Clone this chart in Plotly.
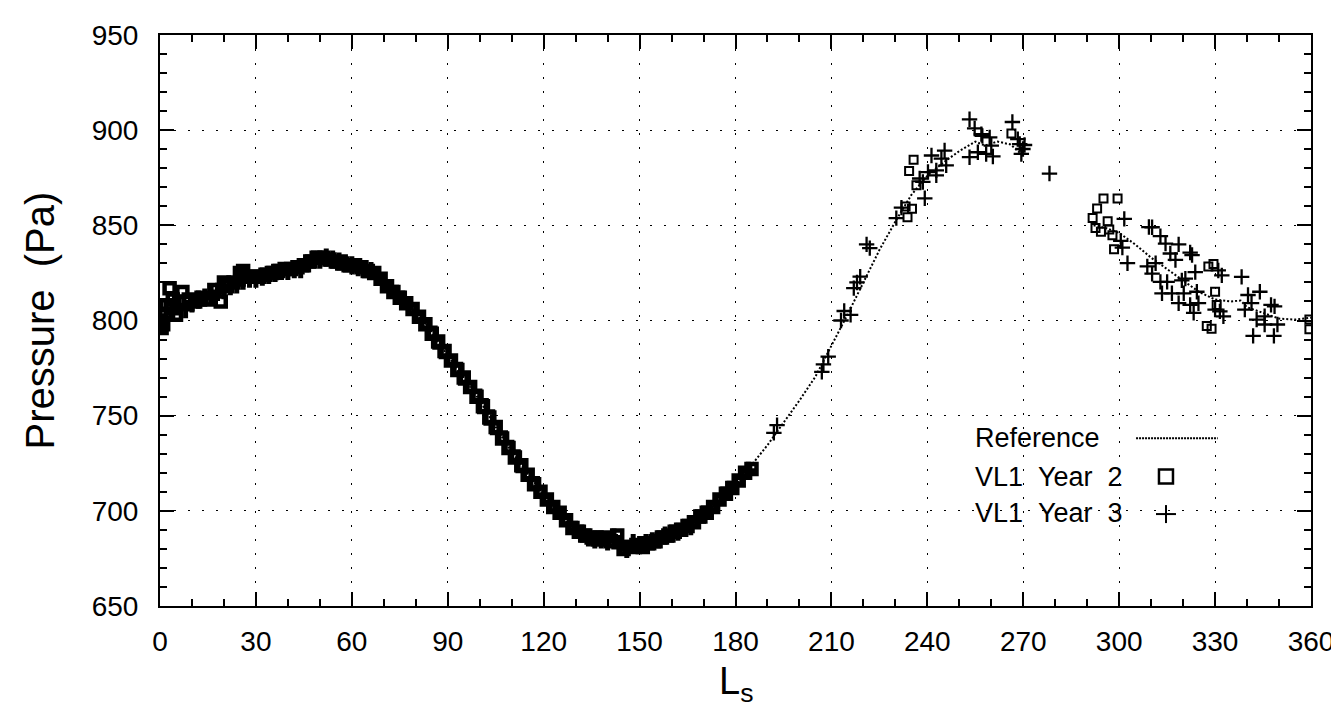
import plotly.graph_objects as go

# Reference annual pressure curve (Ls in degrees, pressure in Pa)
ref_ls = [0, 5, 10, 15, 20, 25, 30, 35, 40, 45, 48, 52, 56, 60, 65, 70, 75, 80, 85, 90,
          95, 100, 105, 110, 115, 120, 125, 130, 135, 140, 145, 150, 155, 160, 165, 170,
          175, 180, 185, 190, 195, 200, 205, 210, 215, 220, 225, 230, 235, 240, 245, 250,
          255, 258, 262, 266, 270, None, 292, 296, 300, 305, 310, 315, 320, 325, 330, 335,
          338, 340, 345, 350, 355, 360]
ref_p = [802, 806, 809, 813, 817, 820, 822, 824.5, 826.5, 828.5, 831, 832.5, 831.5, 829.5,
         827, 821, 813.5, 805, 794, 781.5, 770, 758, 744, 731, 719.5, 708.5, 699, 691, 686,
         684.5, 682, 682, 684, 687.5, 691, 698, 706.5, 715, 724, 734.5, 746, 758, 770.5,
         786.5, 803, 820, 837, 852, 866, 876, 883, 889, 894, 892, 894, 892.5, 886.5, None,
         850, 848.5, 846, 840, 833, 827, 821, 815, 811, 810, 810.5, 807, 804, 801, 800.5,
         801.5]

# VL1 Year 2 (squares) - daily-dense stretch up to Ls 185, then sparse points
y2_ls = [0, 0.5, 1, 2, 3, 4, 5, 6, 7, 9, 11, 13, 15, 17, 19, 20, 21, 23, 25, 26, 27, 29,
         31, 33, 35, 37, 39, 41, 43, 45, 47, 49, 51, 53, 55, 57, 59, 61, 63, 65, 67, 69,
         71, 73, 75, 77, 79, 81, 83, 85, 87, 89, 91, 93, 95, 97, 99, 101, 103, 105, 107,
         109, 111, 113, 115, 117, 119, 121, 123, 125, 127, 129, 131, 133, 135, 137, 139,
         141, 143, 145, 147, 149, 151, 153, 155, 157, 159, 161, 163, 165, 167, 169, 171,
         173, 175, 177, 179, 181, 183, 185,
         233.2, 233.8, 234.3, 235.2, 235.7, 236.6, 266.3,
         291.7, 292.6, 293.1, 294.3, 295.1, 296.4, 296.9, 297.9, 298.4, 299.5,
         327.4, 327.9, 328.9, 329.5, 330.0, 330.5, 359.5, 359.5]
y2_p = [800, 796, 798, 808, 817, 811, 803, 810, 815, 811, 810, 812, 811, 816, 810, 820,
        818, 820, 825, 826, 823, 823, 823, 824, 825, 826, 827, 827, 828, 829, 831, 833,
        833, 832, 831, 830, 829, 829, 828, 826, 825, 822, 818, 815, 812, 809, 806, 802,
        798, 793, 789, 784, 779, 774, 770, 765, 760, 755, 749, 744, 738, 733, 728, 724,
        719, 714, 710, 706, 702, 699, 695, 691, 689, 687, 686, 685, 686, 684, 687, 680,
        681, 682, 681, 683, 684, 686, 687, 689, 690, 692, 694, 697, 699, 702, 706, 709,
        712, 716, 720, 722,
        859.9, 854.3, 878.5, 858.7, 884.4, 871.1, 898.3,
        853.8, 848.6, 858.9, 846.6, 864.1, 852.1, 847.8, 844.8, 837.5, 864.1,
        797.1, 828.4, 795.7, 829.7, 815.1, 808.2, 795.4, 800.5]
Y2_DENSE = 100  # first 100 points form the dense band

# VL1 Year 3 (crosses)
y3_ls = [0, 2, 4, 6, 8, 10, 12, 14, 16, 18, 20, 22, 24, 26, 28, 30, 32, 34, 36, 38, 40,
         42, 44, 46, 48, 50, 52, 54, 56, 58, 60, 62, 64, 66, 68, 70, 72, 74, 76, 78, 80,
         82, 84, 86, 88, 90, 92, 94, 96, 98, 100, 102, 104, 106, 108, 110, 112, 114, 116,
         118, 120, 122, 124, 126, 128, 130, 132, 134, 136, 138, 140, 142, 144, 146, 148,
         150, 152, 154, 156, 158, 160, 162, 164, 166, 168, 170, 172, 174, 176, 178, 180,
         182, 184,
         192, 193, 207, 207.5, 209, 213, 214, 216, 217, 218, 219, 221, 222,
         230.3, 231.9, 237.6, 238.6, 239.2, 240.2, 241.3, 242.8, 242.8, 244.4, 245.4,
         245.9, 253.2, 253.2, 254.8, 255.8, 256.9, 257.2, 258.4, 259.5, 260.0, 260.5,
         266.6, 268.3, 268.9, 269.4, 269.9, 270.4, 278.2,
         300.5, 301.0, 301.6, 302.6, 308.8, 309.3, 310.3, 310.3, 311.4, 312.9, 312.9,
         313.4, 314.5, 315.0, 316.0, 316.5, 317.6, 318.6, 318.6, 319.6, 320.2, 320.7,
         322.2, 322.2, 322.8, 323.3, 323.8, 324.3, 324.8, 330.0, 331.0, 331.5, 332.1,
         332.6, 338.3, 339.3, 340.3, 341.4, 341.9, 343.0, 344.0, 345.5, 345.5, 347.5,
         348.4, 348.6, 349.5]
y3_p = [801, 806, 804, 808, 806, 809, 811, 812, 814, 815, 816, 818, 819, 821, 822, 822,
        823, 824, 825, 826, 826, 827, 827, 830, 832, 832, 833, 832, 831, 830, 829, 828,
        827, 826, 823, 820, 817, 814, 811, 808, 804, 800, 796, 791, 786, 781, 777, 772,
        767, 763, 758, 752, 746, 741, 736, 731, 726, 721, 717, 712, 708, 704, 700, 697,
        693, 690, 688, 686, 685, 685, 684, 686, 681, 680, 683, 682, 683, 684, 685, 687,
        688, 689, 691, 692, 696, 698, 700, 704, 708, 711, 714, 718, 721,
        741, 745, 773, 777, 781, 800, 805, 803, 817, 820, 823, 840, 838,
        853.8, 859.3, 874.6, 872.8, 864.2, 878.0, 886.7, 878.9, 876.3, 885.0, 889.3,
        881.5, 905.7, 885.8, 900.9, 888.4, 897.9, 897.0, 887.5, 896.2, 891.9, 886.2,
        904.3, 895.3, 892.7, 887.5, 890.1, 892.2, 877.2,
        841.8, 838.3, 853.4, 830.1, 828.4, 849.1, 849.0, 824.6, 830.1, 844.3, 820.3,
        814.3, 840.4, 820.3, 835.2, 814.3, 831.8, 840.0, 809.1, 821.1, 814.3, 822.0,
        835.7, 808.2, 834.4, 804.0, 825.4, 815.1, 809.1, 805.7, 826.3, 804.8, 823.7,
        802.2, 822.9, 805.7, 813.4, 809.1, 791.9, 800.5, 815.1, 797.9, 802.2, 808.2,
        791.9, 807.4, 797.9]
Y3_DENSE = 93

x_ticks = [0, 30, 60, 90, 120, 150, 180, 210, 240, 270, 300, 330, 360]
y_ticks = [650, 700, 750, 800, 850, 900, 950]

FONT = "Liberation Sans"
NB = "\u00a0"

fig = go.Figure()
fig.add_trace(go.Scatter(x=ref_ls, y=ref_p, mode='lines', name='Reference',
                         line=dict(color='black', width=2, dash='2px,2px')))

# dense stretch: markers overprint each other into a solid band
fig.add_trace(go.Scatter(x=y2_ls[:Y2_DENSE], y=y2_p[:Y2_DENSE], mode='markers',
                         name='VL1 Year 2',
                         marker=dict(symbol='square-open', size=10, color='black',
                                     line=dict(color='black', width=4.5))))
fig.add_trace(go.Scatter(x=y3_ls[:Y3_DENSE], y=y3_p[:Y3_DENSE], mode='markers',
                         name='VL1 Year 3',
                         marker=dict(symbol='cross-thin', size=13, color='black',
                                     line=dict(color='black', width=5))))
# sparse points
fig.add_trace(go.Scatter(x=y2_ls[Y2_DENSE:], y=y2_p[Y2_DENSE:], mode='markers',
                         name='VL1 Year 2',
                         marker=dict(symbol='square-open', size=8, color='black',
                                     line=dict(color='black', width=2))))
fig.add_trace(go.Scatter(x=y3_ls[Y3_DENSE:], y=y3_p[Y3_DENSE:], mode='markers',
                         name='VL1 Year 3',
                         marker=dict(symbol='cross-thin', size=11, color='black',
                                     line=dict(color='black', width=2.3))))

axis_common = dict(showline=True, linecolor='black', linewidth=2, mirror='ticks',
                   ticks='inside', tickcolor='black', tickwidth=2, ticklen=14,
                   showgrid=True, gridcolor='black', gridwidth=1.3, griddash='2px,12px',
                   zeroline=False, tickfont=dict(family=FONT, size=28, color='black'))

fig.update_xaxes(range=[0, 360], tickvals=x_ticks, ticklabelstandoff=9,
                 minor=dict(dtick=10, ticks='inside', ticklen=7, tickwidth=2,
                            tickcolor='black', showgrid=False),
                 **axis_common)
fig.update_yaxes(range=[650, 950], tickvals=y_ticks, ticklabelstandoff=14,
                 minor=dict(dtick=10, ticks='inside', ticklen=7, tickwidth=2,
                            tickcolor='black', showgrid=False),
                 **axis_common)

# axis titles
fig.add_annotation(text="Pressure" + NB + NB + "(Pa)", xref='paper', yref='paper',
                   x=0, y=0.5, xanchor='center', yanchor='middle',
                   xshift=-121, textangle=-90, showarrow=False,
                   font=dict(family=FONT, size=40, color='black'))
fig.add_annotation(text="L<sub>s</sub>", xref='paper', yref='paper', x=0.5, y=0,
                   xanchor='center', yanchor='bottom', yshift=-104, showarrow=False,
                   font=dict(family=FONT, size=38, color='black'))

# legend drawn by hand: label on the left, sample on the right
leg_font = dict(family=FONT, size=27, color='black')
legend_labels = ["Reference",
                 "VL1" + NB + NB + "Year" + NB + NB + "2",
                 "VL1" + NB + NB + "Year" + NB + NB + "3"]
for label, ly in zip(legend_labels, [0.294, 0.2266, 0.163]):
    fig.add_annotation(text=label, xref='paper', yref='paper', x=0.7064, y=ly,
                       xanchor='left', yanchor='middle', showarrow=False, font=leg_font)
fig.add_shape(type='line', xref='paper', yref='paper', x0=0.848, x1=0.919,
              y0=0.294, y1=0.294, line=dict(color='black', width=2, dash='2px,1px'))
fig.add_shape(type='rect', xref='paper', yref='paper', xsizemode='pixel', ysizemode='pixel',
              xanchor=0.874, yanchor=0.2266, x0=-7, x1=7, y0=-7, y1=7,
              line=dict(color='black', width=2.5))
fig.add_shape(type='line', xref='paper', yref='paper', xsizemode='pixel', ysizemode='pixel',
              xanchor=0.874, yanchor=0.161, x0=-10, x1=10, y0=0, y1=0,
              line=dict(color='black', width=2))
fig.add_shape(type='line', xref='paper', yref='paper', xsizemode='pixel', ysizemode='pixel',
              xanchor=0.874, yanchor=0.161, x0=0, x1=0, y0=-9, y1=9,
              line=dict(color='black', width=2))

fig.update_layout(width=1339, height=709, showlegend=False,
                  margin=dict(l=152, r=36, t=20, b=111),
                  paper_bgcolor='white', plot_bgcolor='white',
                  font=dict(family=FONT, color='black'))

fig.write_html("out.html")
